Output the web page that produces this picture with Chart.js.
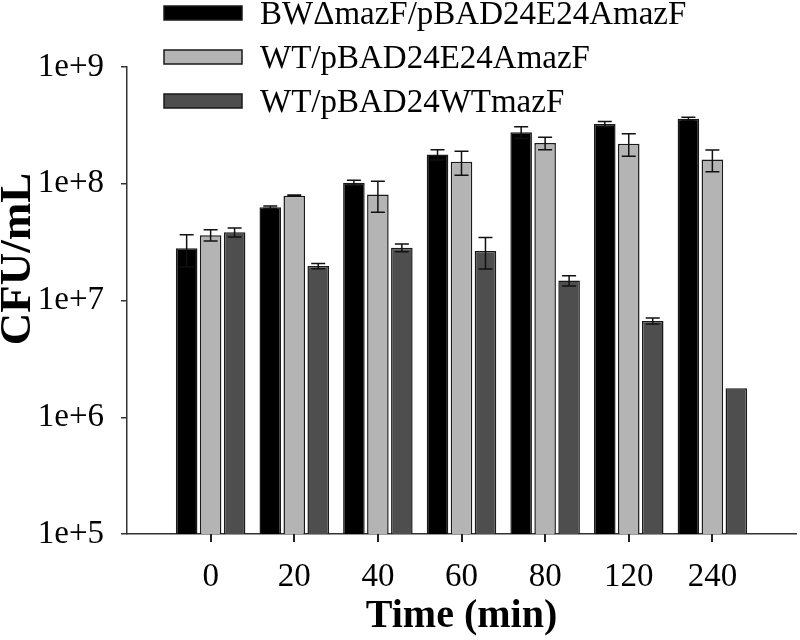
<!DOCTYPE html>
<html>
<head>
<meta charset="utf-8">
<script src="https://cdn.jsdelivr.net/npm/chart.js@4"></script>
<style>
  html, body { margin: 0; padding: 0; background: #fff; }
  #wrap { width: 800px; height: 640px; }
</style>
</head>
<body>
<div id="wrap"><canvas id="cfuChart" width="800" height="640"></canvas></div>
<script>
// data (CFU/mL, log scale)
const timeLabels = ["0", "20", "40", "60", "80", "120", "240"];
const seriesNames = ["BW\u0394mazF/pBAD24E24AmazF", "WT/pBAD24E24AmazF", "WT/pBAD24WTmazF"];
const bwE24A = [2.8e7, 6.3e7, 1.02e8, 1.78e8, 2.76e8, 3.25e8, 3.61e8];
const bwE24AErr = [0.86e7, 0.15e7, 0.05e8, 0.18e8, 0.32e8, 0.17e8, 0.11e8];
const wtE24A = [3.63e7, 7.9e7, 8.1e7, 1.54e8, 2.23e8, 2.2e8, 1.61e8];
const wtE24AErr = [0.4e7, 0.1e7, 2.4e7, 0.36e8, 0.27e8, 0.48e8, 0.34e8];
const wtWT = [3.84e7, 1.97e7, 2.83e7, 2.66e7, 1.48e7, 6.68e6, 1.77e6];
const wtWTErr = [0.34e7, 0.1e7, 0.21e7, 0.8e7, 0.15e7, 0.4e6, 0];
const yTicks = [1e5, 1e6, 1e7, 1e8, 1e9];

const serif = '"Liberation Serif", "Times New Roman", serif';

// blank slot on each side of the categories, like the original axis
const pad = arr => [null, ...arr, null];
const labels = ["", ...timeLabels, ""];

const errorBars = {
  id: "errorBars",
  afterDatasetsDraw(chart) {
    const ctx = chart.ctx;
    const yScale = chart.scales.y;
    ctx.save();
    ctx.strokeStyle = "#111";
    ctx.lineWidth = 1.5;
    chart.data.datasets.forEach((ds, i) => {
      const meta = chart.getDatasetMeta(i);
      meta.data.forEach((bar, j) => {
        const v = ds.data[j];
        const e = ds.errors[j];
        if (v == null || !e) return;
        const yHi = yScale.getPixelForValue(v + e);
        const yLo = yScale.getPixelForValue(v - e);
        ctx.beginPath();
        ctx.moveTo(bar.x, yHi);
        ctx.lineTo(bar.x, yLo);
        ctx.moveTo(bar.x - 7, yHi);
        ctx.lineTo(bar.x + 7, yHi);
        ctx.moveTo(bar.x - 7, yLo);
        ctx.lineTo(bar.x + 7, yLo);
        ctx.stroke();
      });
    });
    ctx.restore();
  }
};

// legend, y title and x tick marks drawn by hand
const overlay = {
  id: "overlay",
  afterDraw(chart) {
    const ctx = chart.ctx;
    const xs = chart.scales.x;
    ctx.save();
    ctx.strokeStyle = "#222";
    ctx.lineWidth = 2;
    ctx.beginPath();
    for (let i = 1; i < labels.length - 1; i++) {
      const px = Math.round(xs.getPixelForTick(i));
      ctx.moveTo(px, xs.top);
      ctx.lineTo(px, xs.top + 8);
    }
    ctx.stroke();

    ctx.lineWidth = 1.5;
    chart.data.datasets.forEach((ds, i) => {
      const cy = 13 + 44 * i;
      ctx.fillStyle = ds.backgroundColor;
      ctx.strokeStyle = "#1a1a1a";
      ctx.fillRect(164, cy - 7, 78, 14);
      ctx.strokeRect(164, cy - 7, 78, 14);
      ctx.fillStyle = "#000";
      ctx.font = "33px " + serif;
      ctx.textAlign = "left";
      ctx.textBaseline = "middle";
      ctx.fillText(ds.label, 260, cy + 2);
    });
    ctx.translate(18, 259);
    ctx.rotate(-Math.PI / 2);
    ctx.font = "bold 45px " + serif;
    ctx.textAlign = "center";
    ctx.textBaseline = "middle";
    ctx.fillText("CFU/mL", 0, 0);
    ctx.restore();
  }
};

new Chart(document.getElementById("cfuChart").getContext("2d"), {
  type: "bar",
  data: {
    labels: labels,
    datasets: [
      { label: seriesNames[0], data: pad(bwE24A), errors: pad(bwE24AErr), backgroundColor: "#000000" },
      { label: seriesNames[1], data: pad(wtE24A), errors: pad(wtE24AErr), backgroundColor: "#b4b4b4" },
      { label: seriesNames[2], data: pad(wtWT), errors: pad(wtWTErr), backgroundColor: "#4e4e4e" }
    ].map(d => Object.assign(d, {
      borderColor: "#1a1a1a",
      borderWidth: 1.5,
      categoryPercentage: 0.86,
      barPercentage: 0.9
    }))
  },
  options: {
    responsive: false,
    animation: false,
    layout: { padding: { top: 67, right: 4, left: 0, bottom: 0 } },
    plugins: {
      legend: { display: false },
      tooltip: { enabled: false }
    },
    scales: {
      x: {
        offset: false,
        border: { display: true, color: "#333", width: 1.5 },
        grid: {
          offset: false,
          drawOnChartArea: false,
          drawTicks: true,
          tickLength: 24,
          tickColor: "rgba(0,0,0,0)"
        },
        ticks: {
          color: "#000",
          font: { family: serif, size: 33 },
          padding: 0,
          maxRotation: 0,
          autoSkip: false
        },
        title: {
          display: true,
          text: "Time (min)",
          color: "#000",
          font: { family: serif, size: 40, weight: "bold", lineHeight: 1 },
          padding: { top: 0, bottom: 3 }
        },
        afterFit: s => { s.height = 106; }
      },
      y: {
        type: "logarithmic",
        min: 1e5,
        max: 1e9,
        border: { display: true, color: "#333", width: 1.5 },
        grid: {
          drawOnChartArea: false,
          drawTicks: true,
          tickLength: 6,
          tickColor: "#333",
          lineWidth: 1.5
        },
        afterBuildTicks: s => { s.ticks = yTicks.map(v => ({ value: v })); },
        ticks: {
          color: "#000",
          font: { family: serif, size: 33 },
          padding: 17,
          callback: v => "1e+" + Math.round(Math.log10(v))
        },
        afterFit: s => { s.width = 127; }
      }
    }
  },
  plugins: [errorBars, overlay]
});
</script>
</body>
</html>
